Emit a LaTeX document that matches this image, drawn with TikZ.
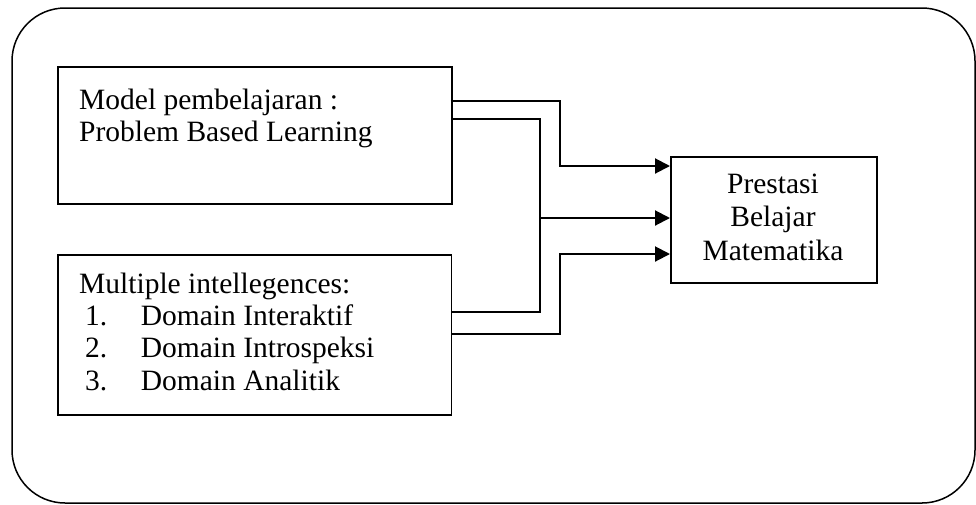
\documentclass[tikz,border=0pt]{standalone}
\usepackage{fontspec}
\setmainfont{Liberation Serif}
\usetikzlibrary{arrows.meta}
\begin{document}
\begin{tikzpicture}[x=1pt,y=-1pt,
  box/.style={draw=black,line width=1.5pt,rectangle,inner sep=0pt,anchor=north west},
  txt/.style={anchor=base west,inner sep=0pt,font=\fontsize{29.5}{33}\selectfont},
  ctxt/.style={anchor=base,inner sep=0pt,font=\fontsize{29.5}{33}\selectfont},
  conn/.style={draw=black,line width=2pt},
  arr/.style={conn,-{Triangle[length=15pt,width=15pt]}}]
\useasboundingbox (0,0) rectangle (976,504);
\draw[line width=1.5pt,rounded corners=53pt] (12,8) rectangle (975,503);
% boxes
\node[box,minimum width=394pt,minimum height=137pt] (model) at (57,66) {};
\node[box,minimum width=393.5pt,minimum height=160pt] (mi) at (57,254) {};
\node[box,minimum width=206pt,minimum height=126pt] (pb) at (670,156) {};
% texts
\node[txt] (t1) at (79,109.5) {Model pembelajaran :};
\node[txt] (t2) at (79,141.8) {Problem Based Learning};
\node[txt] (t3) at (79,293) {Multiple intellegences:};
\node[txt] (t4) at (85,325) {\makebox[55.7pt][l]{1.}Domain Interaktif};
\node[txt] (t5) at (85,357.7) {\makebox[55.7pt][l]{2.}Domain Introspeksi};
\node[txt] (t6) at (85,390.5) {\makebox[55.7pt][l]{3.}Domain Analitik};
\node[ctxt] (p1) at (773,193) {Prestasi};
\node[ctxt] (p2) at (773,226.5) {Belajar};
\node[ctxt] (p3) at (773,260) {Matematika};
% connection points
\path (model.north east) ++(-2,34.7) coordinate (ma);
\path (model.north east) ++(0,53) coordinate (mb);
\path (mi.north east) ++(0,58) coordinate (ia);
\path (mi.north east) ++(0,80) coordinate (ib);
\path (pb.north west) ++(0,10) coordinate (pa);
\path (pb.north west) ++(0,62) coordinate (pm);
\path (pb.north west) ++(0,98) coordinate (pc);
\coordinate (split) at (540,218);
% connectors
\draw[arr] (ma) -| (560,133) |- (pa);
\draw[conn] (mb) -| (split) |- (ia);
\draw[arr] (split) -- (pm);
\draw[arr] (ib) -| (560,290) |- (pc);
\end{tikzpicture}
\end{document}
